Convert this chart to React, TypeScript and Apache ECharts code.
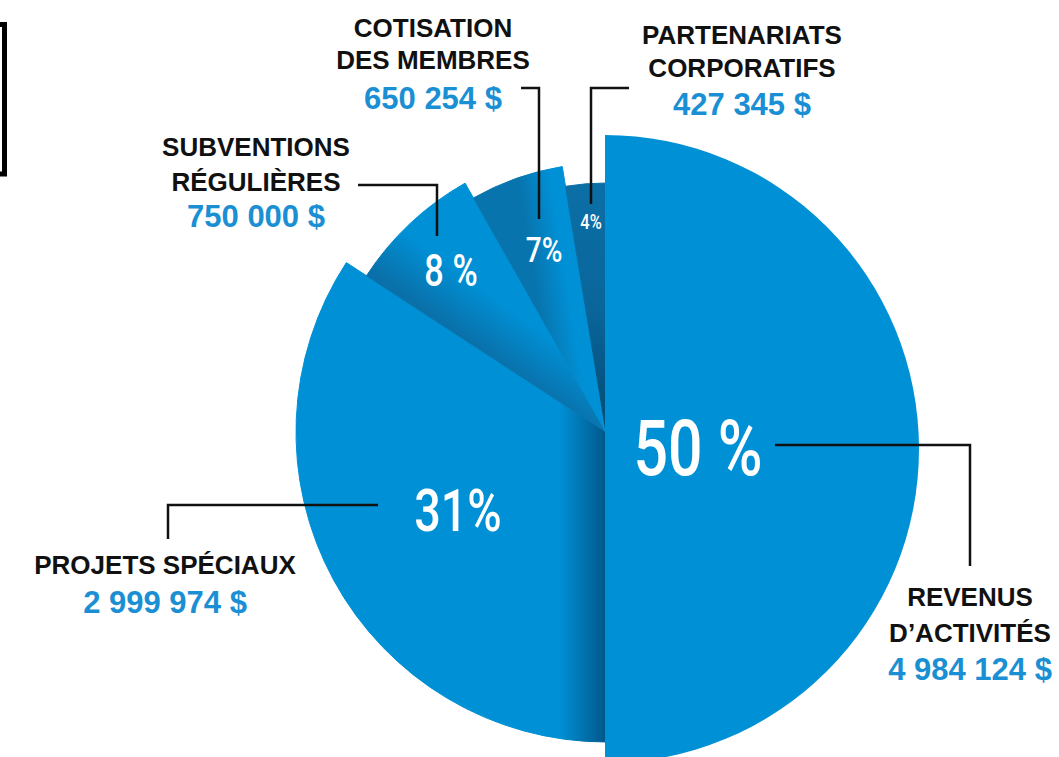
import React, { useEffect, useRef } from "react";
import * as echarts from "echarts";

// ---------- data ----------
const categories = [
  "REVENUS D’ACTIVITÉS",
  "PROJETS SPÉCIAUX",
  "SUBVENTIONS RÉGULIÈRES",
  "COTISATION DES MEMBRES",
  "PARTENARIATS CORPORATIFS",
];
const amounts = [4984124, 2999974, 750000, 650254, 427345];
const percentLabels = ["50 %", "31%", "8 %", "7%", "4%"];
// share of the fan as drawn in the figure
const sliceShares = [50, 34.2, 7.6, 5.6, 2.6];
const nameLines = [
  ["REVENUS", "D’ACTIVITÉS"],
  ["PROJETS SPÉCIAUX"],
  ["SUBVENTIONS", "RÉGULIÈRES"],
  ["COTISATION", "DES MEMBRES"],
  ["PARTENARIATS", "CORPORATIFS"],
];

// ---------- layout / style ----------
const BLUE = "#0090d5";
const TEXT_BLUE = "#1b8fd3";
const sliceCenters: [number, number][] = [
  [605, 449],
  [606, 432],
  [606, 432],
  [606, 432],
  [606, 432],
];
const sliceRadii = [314, 310, 286, 269, 249];
const sliceFills: any[] = [
  BLUE,
  {
    type: "linear", x: 0, y: 0, x2: 1, y2: 0,
    colorStops: [
      { offset: 0, color: BLUE },
      { offset: 0.85, color: BLUE },
      { offset: 1, color: "#00578a" },
    ],
  },
  {
    type: "linear", x: 0.5, y: 0.69, x2: 0.62, y2: 0.52,
    colorStops: [
      { offset: 0, color: "#0a70a9" },
      { offset: 1, color: BLUE },
    ],
  },
  {
    type: "linear", x: 0.5, y: 0.56, x2: 0.72, y2: 0.49,
    colorStops: [
      { offset: 0, color: "#0874ad" },
      { offset: 1, color: BLUE },
    ],
  },
  {
    type: "linear", x: 0, y: 0, x2: 0, y2: 1,
    colorStops: [
      { offset: 0, color: "#0b6fa6" },
      { offset: 0.5, color: "#09669b" },
      { offset: 1, color: "#044a74" },
    ],
  },
];
// label layout: center x, y of each text line (names then amount)
const labelLayout = [
  { x: 970, ys: [597, 633], amountY: 669 },
  { x: 165, ys: [565], amountY: 602 },
  { x: 256, ys: [147, 182], amountY: 216 },
  { x: 433, ys: [28, 60], amountY: 98 },
  { x: 742, ys: [35, 68], amountY: 104 },
];
const leaderLines: number[][][] = [
  [[775, 445], [970, 445], [970, 566]],
  [[378, 505], [168, 505], [168, 539]],
  [[358, 185], [437, 185], [437, 236]],
  [[521, 88], [539, 88], [539, 219]],
  [[629, 88], [591, 88], [591, 204]],
];
const pctLayout = [
  { x: 698, y: 448, size: 78 },
  { x: 458, y: 510, size: 60 },
  { x: 451, y: 271, size: 44 },
  { x: 544, y: 250, size: 36 },
  { x: 591, y: 222, size: 21 },
];

const fmtAmount = (n: number) =>
  String(n).replace(/\B(?=(\d{3})+(?!\d))/g, " ") + " $";

export default function App() {
  const ref = useRef<HTMLDivElement>(null);
  useEffect(() => {
    if (!ref.current) return;
    const chart = echarts.init(ref.current, undefined, { renderer: "svg" });
    const order = [1, 2, 3, 4, 0];
    const series = order.map((i) => ({
      type: "pie",
      center: sliceCenters[i],
      radius: [0, sliceRadii[i]],
      startAngle: 90,
      clockwise: true,
      silent: true,
      avoidLabelOverlap: false,
      label: { show: false },
      labelLine: { show: false },
      emphasis: { disabled: true },
      itemStyle: { borderWidth: 0 },
      data: categories.map((c, j) => ({
        name: c,
        value: sliceShares[j],
        itemStyle:
          j === i
            ? {
                color: sliceFills[i],
                borderColor: sliceFills[i],
                borderWidth: i === 0 ? 0 : 1,
              }
            : { color: "rgba(0,0,0,0)", borderWidth: 0 },
      })),
    }));

    const graphics: any[] = [];
    graphics.push({
      type: "rect",
      shape: { x: -40, y: 24.5, width: 44.5, height: 149.5 },
      style: { fill: "none", stroke: "#000", lineWidth: 5 },
      z: 10,
    });
    leaderLines.forEach((pts) =>
      graphics.push({
        type: "polyline",
        shape: { points: pts },
        style: { stroke: "#111", lineWidth: 2.5, fill: "none" },
        z: 10,
      })
    );
    categories.forEach((_, i) => {
      const L = labelLayout[i];
      nameLines[i].forEach((t, k) =>
        graphics.push({
          type: "text",
          x: L.x,
          y: L.ys[k],
          z: 10,
          style: {
            text: t,
            fill: "#111",
            font: "bold 26px 'Liberation Sans', Arial, sans-serif",
            textAlign: "center",
            textVerticalAlign: "middle",
          },
        })
      );
      graphics.push({
        type: "text",
        x: L.x,
        y: L.amountY,
        z: 10,
        style: {
          text: fmtAmount(amounts[i]),
          fill: TEXT_BLUE,
          font: "bold 31px 'Liberation Sans', Arial, sans-serif",
          textAlign: "center",
          textVerticalAlign: "middle",
        },
      });
      const P = pctLayout[i];
      graphics.push({
        type: "text",
        x: P.x,
        y: P.y,
        scaleX: 0.78,
        z: 10,
        style: {
          text: percentLabels[i],
          fill: "#fff",
          font: `500 ${P.size}px Roboto, sans-serif`,
          textAlign: "center",
          textVerticalAlign: "middle",
        },
      });
    });

    chart.setOption({
      animation: false,
      backgroundColor: "#ffffff",
      series,
      graphic: graphics,
    });
    return () => chart.dispose();
  }, []);
  return (
    <div
      ref={ref}
      style={{ position: "fixed", left: 0, top: 0, width: 1059, height: 757 }}
    />
  );
}
